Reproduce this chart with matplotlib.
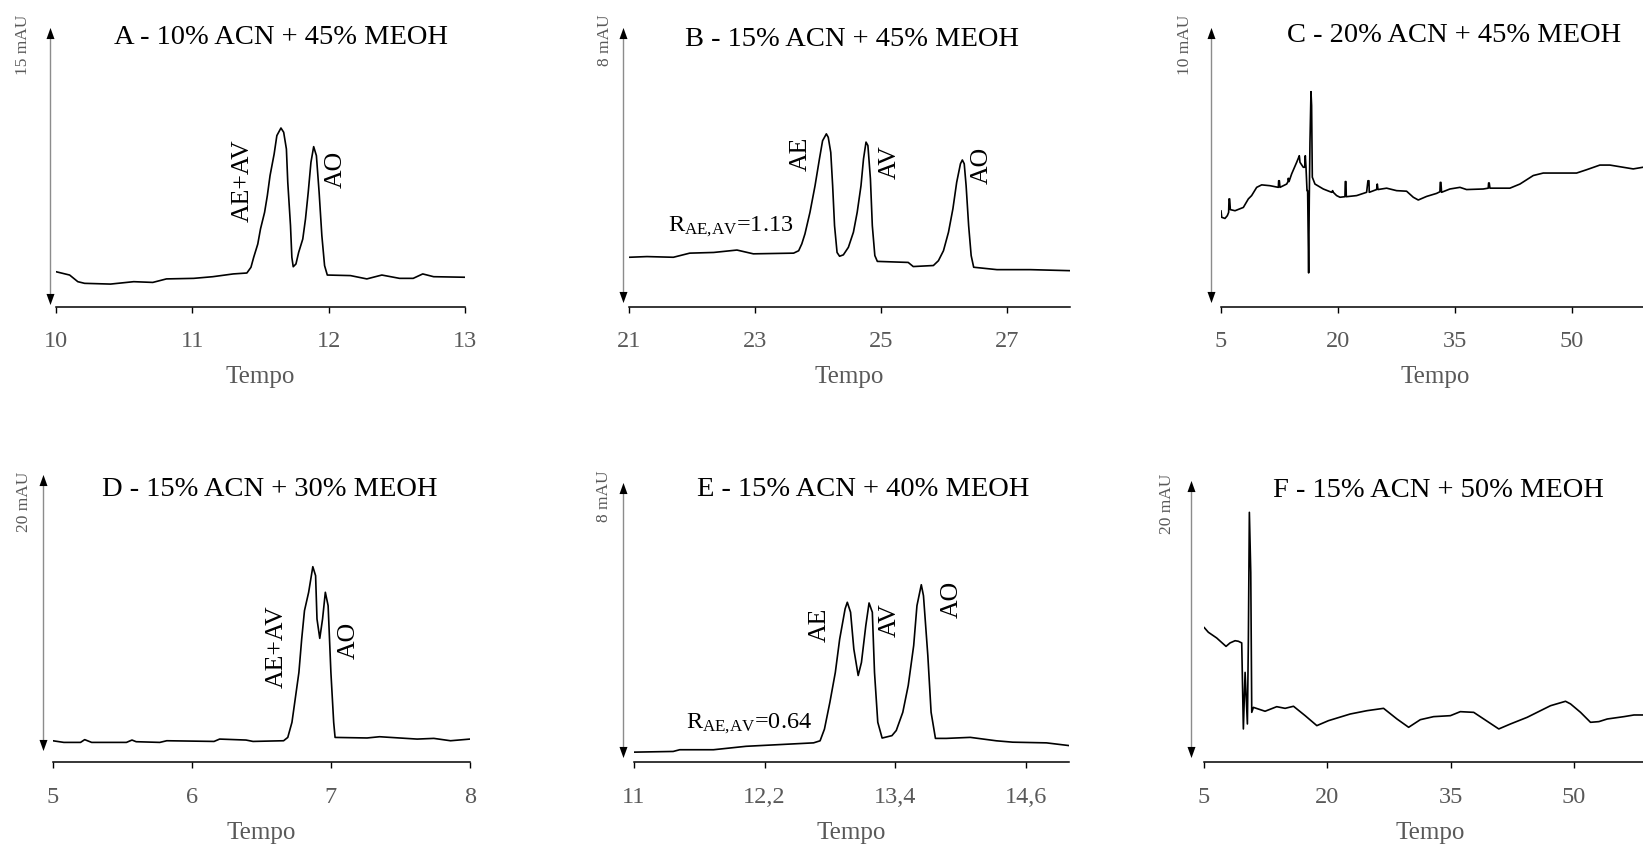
import matplotlib
matplotlib.use("Agg")
import matplotlib.pyplot as plt
from matplotlib.transforms import blended_transform_factory

plt.rcParams['font.family'] = ['Liberation Serif', 'DejaVu Serif']
plt.rcParams['mathtext.fontset'] = 'custom'
plt.rcParams['mathtext.rm'] = 'Liberation Serif'
plt.rcParams['mathtext.it'] = 'Liberation Serif:italic'

W, H = 1643, 845
GRAY = '#595959'

# ---- data (tempo, mAU) ----
a_time = [10.00, 10.10, 10.16, 10.21, 10.40, 10.57, 10.71, 10.81, 11.01, 11.15, 11.30, 11.40,
          11.43, 11.45, 11.48, 11.50, 11.53, 11.55, 11.57, 11.60, 11.62, 11.65, 11.67, 11.69,
          11.70, 11.72, 11.73, 11.74, 11.76, 11.78, 11.81, 11.83, 11.85, 11.87, 11.89, 11.91,
          11.93, 11.95, 11.97, 11.99, 12.16, 12.28, 12.39, 12.52, 12.62, 12.69, 12.77, 13.00]
a_signal = [1.75, 1.57, 1.21, 1.12, 1.08, 1.21, 1.17, 1.36, 1.39, 1.48, 1.63, 1.68,
            1.99, 2.53, 3.25, 4.07, 4.97, 5.87, 6.96, 8.13, 9.13, 9.54, 9.31, 8.40,
            6.60, 4.25, 2.53, 2.02, 2.17, 2.80, 3.52, 4.61, 6.05, 7.68, 8.53, 8.04,
            6.05, 3.71, 2.08, 1.57, 1.54, 1.36, 1.57, 1.39, 1.39, 1.63, 1.48, 1.45]

b_time = [21.00, 21.28, 21.70, 21.96, 22.34, 22.71, 22.97, 23.61, 23.69, 23.74, 23.79, 23.87,
          23.95, 24.02, 24.07, 24.13, 24.16, 24.20, 24.23, 24.26, 24.30, 24.34, 24.40, 24.48,
          24.56, 24.62, 24.68, 24.72, 24.76, 24.79, 24.83, 24.86, 24.90, 24.94, 25.43, 25.51,
          25.83, 25.91, 25.99, 26.07, 26.14, 26.20, 26.26, 26.29, 26.32, 26.35, 26.39, 26.43,
          26.47, 26.84, 27.37, 28.00]
b_signal = [1.31, 1.33, 1.31, 1.43, 1.45, 1.52, 1.41, 1.43, 1.50, 1.70, 1.99, 2.62,
            3.39, 4.17, 4.70, 4.90, 4.80, 4.36, 3.39, 2.23, 1.45, 1.34, 1.38, 1.60,
            2.04, 2.62, 3.39, 4.17, 4.66, 4.56, 3.59, 2.23, 1.36, 1.19, 1.16, 1.04,
            1.07, 1.21, 1.50, 2.04, 2.72, 3.49, 4.03, 4.14, 4.03, 3.39, 2.23, 1.36,
            1.02, 0.95, 0.95, 0.92]

c_time = [5.00, 5.09, 5.51, 5.81, 5.98, 6.03, 6.11, 6.20, 6.80, 7.87, 8.51, 8.93, 9.58, 10.22,
          11.29, 12.36, 12.40, 12.49, 12.57, 13.43, 13.60, 13.64, 13.73, 14.07, 14.71, 14.97,
          15.05, 15.14, 15.56, 15.74, 15.82, 15.91, 16.04, 16.12, 16.25, 16.33, 16.42, 16.55,
          16.63, 16.72, 17.06, 18.13, 19.20, 19.33, 19.41, 19.84, 20.27, 20.91, 20.95, 21.04,
          21.08, 22.41, 23.69, 23.86, 23.99, 24.03, 24.97, 25.06, 25.15, 26.26, 27.54, 28.82,
          29.68, 30.32, 31.39, 32.67, 33.10, 33.14, 33.23, 33.31, 34.38, 35.67, 36.52, 38.66,
          39.30, 39.35, 39.43, 39.52, 42.08, 43.37, 45.08, 46.36, 48.07, 50.64, 51.92, 53.63,
          54.92, 56.63, 57.91, 59.15, 61.00]
c_signal = [3.33, 3.09, 3.05, 3.15, 3.27, 3.76, 3.76, 3.37, 3.33, 3.45, 3.76, 3.88, 4.18, 4.27,
            4.24, 4.18, 4.42, 4.42, 4.18, 4.30, 4.39, 4.51, 4.39, 4.67, 5.09, 5.27,
            5.33, 5.09, 4.91, 4.91, 5.33, 4.91, 4.06, 4.06, 1.07, 3.76, 5.82, 7.66,
            7.15, 4.55, 4.30, 4.12, 4.00, 4.06, 4.00, 3.88, 3.82, 3.84, 4.39, 4.39,
            3.84, 3.88, 4.00, 4.42, 4.42, 4.00, 4.10, 4.30, 4.10, 4.15, 4.06, 4.04,
            3.82, 3.72, 3.85, 3.96, 4.02, 4.36, 4.36, 4.00, 4.12, 4.18, 4.10, 4.12,
            4.15, 4.34, 4.34, 4.15, 4.15, 4.30, 4.61, 4.70, 4.70, 4.70, 4.82, 4.99,
            4.99, 4.91, 4.85, 4.91, 4.95]

d_time = [5.00, 5.08, 5.20, 5.23, 5.28, 5.53, 5.57, 5.60, 5.77, 5.82, 6.16, 6.20, 6.39, 6.44,
          6.66, 6.69, 6.72, 6.74, 6.77, 6.79, 6.81, 6.84, 6.87, 6.89, 6.90, 6.92, 6.94, 6.96,
          6.98, 7.00, 7.02, 7.03, 7.26, 7.35, 7.62, 7.74, 7.86, 8.00]
d_signal = [0.72, 0.60, 0.60, 0.80, 0.60, 0.60, 0.77, 0.65, 0.60, 0.72, 0.67, 0.84, 0.77, 0.67,
            0.72, 0.96, 2.05, 3.49, 5.66, 8.07, 10.12, 11.45, 13.30, 12.65, 9.52, 8.12, 9.52, 11.45,
            10.48, 5.66, 2.05, 0.96, 0.92, 1.01, 0.84, 0.89, 0.72, 0.84]

e_time = [11.00, 11.36, 11.42, 11.73, 12.03, 12.34, 12.65, 12.71, 12.75, 12.80, 12.85, 12.89,
          12.94, 12.96, 12.99, 13.02, 13.06, 13.09, 13.13, 13.16, 13.19, 13.21, 13.24, 13.28,
          13.37, 13.41, 13.47, 13.52, 13.57, 13.60, 13.64, 13.66, 13.70, 13.73, 13.77, 13.87,
          14.09, 14.33, 14.48, 14.79, 15.00]
e_signal = [0.15, 0.17, 0.22, 0.22, 0.32, 0.37, 0.42, 0.48, 0.82, 1.60, 2.47, 3.44,
            4.32, 4.51, 4.22, 3.15, 2.38, 2.76, 3.83, 4.49, 4.22, 2.47, 1.02, 0.56,
            0.63, 0.78, 1.31, 2.09, 3.25, 4.41, 5.02, 4.70, 2.96, 1.31, 0.55, 0.55,
            0.58, 0.48, 0.44, 0.42, 0.34]

f_time = [5.00, 5.53, 6.54, 7.68, 8.17, 8.78, 9.18, 9.59, 9.79, 10.00, 10.28, 10.40, 10.52,
          10.69, 10.81, 11.01, 12.43, 13.85, 14.87, 15.89, 17.31, 18.73, 20.15, 22.79, 24.82,
          26.85, 28.48, 29.90, 31.32, 32.94, 34.98, 36.19, 37.82, 39.04, 40.87, 42.29, 44.32,
          47.16, 48.99, 49.60, 50.82, 52.03, 53.05, 54.07, 56.10, 57.32, 58.50, 60.00]
f_signal = [9.40, 9.04, 8.63, 8.02, 8.27, 8.43, 8.39, 8.27, 2.05, 6.14, 2.41, 8.55, 17.71,
            13.37, 3.25, 3.61, 3.33, 3.66, 3.54, 3.69, 3.01, 2.29, 2.65, 3.13, 3.37,
            3.54, 2.77, 2.17, 2.72, 2.94, 3.01, 3.30, 3.25, 2.77, 2.05, 2.41, 2.89,
            3.73, 4.05, 3.86, 3.25, 2.53, 2.58, 2.77, 2.94, 3.06, 3.06, 3.08]

titles = ['A - 10% ACN + 45% MEOH', 'B - 15% ACN + 45% MEOH', 'C - 20% ACN + 45% MEOH',
          'D - 15% ACN + 30% MEOH', 'E - 15% ACN + 40% MEOH', 'F - 15% ACN + 50% MEOH']
scales = [15, 8, 10, 20, 8, 20]
scale_labels = ['15 mAU', '8 mAU', '10 mAU', '20 mAU', '8 mAU', '20 mAU']
xlims = [(10, 13), (21, 28), (5, 60), (5, 8), (11, 15), (5, 60)]
xticks = [[10, 11, 12, 13], [21, 23, 25, 27], [5, 20, 35, 50],
          [5, 6, 7, 8], [11, 12.2, 13.4, 14.6], [5, 20, 35, 50]]
xticklabels = [['10', '11', '12', '13'], ['21', '23', '25', '27'], ['5', '20', '35', '50'],
               ['5', '6', '7', '8'], ['11', '12,2', '13,4', '14,6'], ['5', '20', '35', '50']]
series = [(a_time, a_signal), (b_time, b_signal), (c_time, c_signal),
          (d_time, d_signal), (e_time, e_signal), (f_time, f_signal)]

# peak labels: (panel, text, tempo, mAU)
peak_labels = [(0, 'AE+AV', 11.37, 6.74), (0, 'AO', 12.05, 7.37),
               (1, 'AE', 23.72, 4.36), (1, 'AV', 25.14, 4.10), (1, 'AO', 26.60, 4.01),
               (3, 'AE+AV', 6.61, 7.59), (3, 'AO', 7.13, 8.07),
               (4, 'AE', 12.71, 3.88), (4, 'AV', 13.35, 4.01), (4, 'AO', 13.92, 4.61)]
resolution_labels = [(1, r'R$_{\mathrm{AE{,}AV}}$=1.13', 21.62, 2.09),
                     (4, r'R$_{\mathrm{AE{,}AV}}$=0.64', 11.48, 0.87)]

# ---- layout in pixels: left, right, axis line y, arrow top, arrow x, arrow bottom ----
geom = [(56, 465, 308, 28.3, 50, 305),
        (629.3, 1070, 308, 28.3, 623.3, 303.3),
        (1221, 1649.5, 308, 28.3, 1211, 303.3),
        (52.7, 470, 763.3, 475, 43.3, 751.7),
        (634, 1069.3, 763.3, 483.3, 623.3, 758.3),
        (1204, 1656, 763.3, 481.7, 1190.7, 758.3)]
title_pos = [(281, 37.5), (852, 39.5), (1454, 36), (270, 489.5), (863, 489.5), (1438, 490.5)]
scale_pos = [(23, 45), (605, 40), (1185, 45), (24, 502), (604, 496), (1167, 504)]

head_up = [(-0.36, -0.5), (0.36, -0.5), (0, 0.5)]
head_down = [(-0.36, 0.5), (0.36, 0.5), (0, -0.5)]

fig = plt.figure(figsize=(W / 100, H / 100), dpi=100)
axes = []
for i in range(6):
    left, right, axis_y, top, arrow_x, arrow_bot = geom[i]
    ax = fig.add_axes([left / W, 1 - axis_y / H, (right - left) / W, (axis_y - top) / H])
    pxu = (arrow_bot - top) / scales[i]
    ax.set_xlim(*xlims[i])
    ax.set_ylim(-(axis_y - arrow_bot) / pxu, scales[i])
    t, s = series[i]
    ax.plot(t, s, color='black', lw=1.2, solid_joinstyle='round', solid_capstyle='round')

    for side in ['top', 'right', 'left']:
        ax.spines[side].set_visible(False)
    ax.spines['bottom'].set_linewidth(1.1)
    ax.set_yticks([])
    ax.set_xticks(xticks[i])
    ax.set_xticklabels(xticklabels[i])
    ax.tick_params(axis='x', direction='out', length=4.5, width=1.0, color='black',
                   labelcolor=GRAY, labelsize=17.5, pad=12.3)
    ax.set_xlabel('Tempo', fontsize=18, color=GRAY, labelpad=10.2)

    # scale arrow
    tr = blended_transform_factory(ax.transAxes, ax.transData)
    xf = (arrow_x - left) / (right - left)
    hh = 5.5 / pxu
    ax.plot([xf, xf], [hh, scales[i] - hh], color='#8c8c8c', lw=1.0, transform=tr, clip_on=False)
    ax.plot([xf], [scales[i] - hh], marker=head_up, ms=8, color='black', mew=0,
            transform=tr, clip_on=False)
    ax.plot([xf], [hh], marker=head_down, ms=8, color='black', mew=0,
            transform=tr, clip_on=False)
    axes.append(ax)

    fig.text(title_pos[i][0] / W, 1 - title_pos[i][1] / H, titles[i], fontsize=20.5,
             ha='center', va='center', color='black')
    fig.text(scale_pos[i][0] / W, 1 - scale_pos[i][1] / H, scale_labels[i], fontsize=12.5,
             ha='center', va='center', rotation=90, color=GRAY)

for p, txt, x, y in peak_labels:
    axes[p].text(x, y, txt, rotation=90, fontsize=18.5, ha='center', va='center', color='black')
for p, txt, x, y in resolution_labels:
    axes[p].text(x, y, txt, fontsize=17.5, ha='left', va='baseline', color='black')

fig.savefig('out.png', dpi=100)
